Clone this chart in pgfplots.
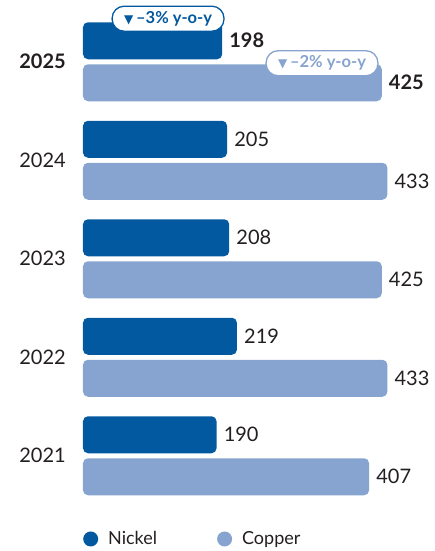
\documentclass[border=0pt]{standalone}
\usepackage{pgfplots}
\pgfplotsset{compat=1.18}
\usepackage{fontspec}
\setmainfont{Lato}
\newfontfamily\symfont{DejaVu Sans}
\definecolor{nickel}{HTML}{03599F}
\definecolor{copper}{HTML}{86A4CF}
\definecolor{txt}{HTML}{231F20}
\begin{document}
\begin{tikzpicture}
\useasboundingbox (-83pt,-46pt) rectangle (351pt,505pt);
\begin{axis}[
  at={(0pt,0pt)}, anchor=south west,
  scale only axis, width=351.5pt, height=492.5pt,
  xmin=0, xmax=500, ymin=-0.5, ymax=4.5,
  axis line style={draw=none},
  xtick=\empty,
  ytick={0,1,2,3,4},
  yticklabels={2021,2022,2023,2024,\textbf{2025}},
  major tick length=0pt,
  yticklabel style={font=\fontsize{20}{20}\selectfont, text=txt, inner sep=0pt, anchor=east, xshift=-17pt},
  xbar, bar width=37pt,
  clip=false,
  nodes near coords, point meta=explicit symbolic,
  nodes near coords style={font=\fontsize{20}{20}\selectfont, text=txt, anchor=west, inner sep=0pt, xshift=7pt},
  legend columns=2,
  legend style={at={(0,-0.069)}, anchor=west, draw=none, fill=none, inner sep=0pt,
    font=\fontsize{18}{18}\selectfont, text=txt,
    /tikz/every even column/.append style={column sep=58pt}},
]
\addplot[fill=nickel, draw=none, rounded corners=5pt, bar shift=21pt,
  legend image code/.code={\fill[nickel] (7.5pt,0pt) circle (7.5pt); \path (23pt,0pt);}]
  coordinates {(190,0)[190] (219,1)[219] (208,2)[208] (205,3)[205] (198,4)[\textbf{198}]};
\addlegendentry{Nickel}
\addplot[fill=copper, draw=none, rounded corners=5pt, bar shift=-21pt,
  legend image code/.code={\fill[copper] (7.5pt,0pt) circle (7.5pt); \path (23pt,0pt);}]
  coordinates {(407,0)[407] (433,1)[433] (425,2)[425] (433,3)[433] (425,4)[\textbf{425}]};
\addlegendentry{Copper}
\node[fill=white, draw=nickel, line width=1.3pt, rounded corners=12pt, minimum height=25pt,
  inner xsep=12pt, inner ysep=0pt, text=nickel, font=\fontsize{16.5}{16.5}\selectfont\bfseries]
  at (axis cs:121,4.437) {{\symfont\fontsize{12}{12}\selectfont ▼}\,–3\% y-o-y};
\node[fill=white, draw=copper, line width=1.3pt, rounded corners=12pt, minimum height=25pt,
  inner xsep=12pt, inner ysep=0pt, text=copper, font=\fontsize{16.5}{16.5}\selectfont\bfseries]
  at (axis cs:340,3.985) {{\symfont\fontsize{12}{12}\selectfont ▼}\,–2\% y-o-y};
\end{axis}
\end{tikzpicture}
\end{document}
